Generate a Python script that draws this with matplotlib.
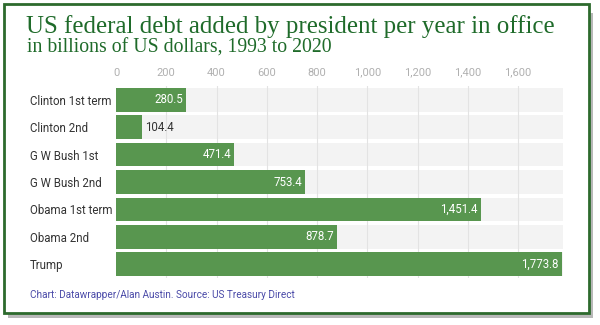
import matplotlib
matplotlib.use("Agg")
import matplotlib.pyplot as plt
from matplotlib.patches import Rectangle

categories = ["Clinton 1st term", "Clinton 2nd", "G W Bush 1st", "G W Bush 2nd",
              "Obama 1st term", "Obama 2nd", "Trump"]
values = [280.5, 104.4, 471.4, 753.4, 1451.4, 878.7, 1773.8]
xticks = [0, 200, 400, 600, 800, 1000, 1200, 1400, 1600]
xticklabels = ["0", "200", "400", "600", "800", "1,000", "1,200", "1,400", "1,600"]

W, H = 600, 325
fig = plt.figure(figsize=(6, 3.25), dpi=100)
fig.patch.set_facecolor("white")

def fx(px): return px / W
def fy(py): return 1 - py / H

# shadow and border
fig.patches.append(Rectangle((fx(8), fy(318)), fx(585), (313 - 8) / H, transform=fig.transFigure,
                             facecolor="#b8b8b8", edgecolor="none", zorder=0))
fig.patches.append(Rectangle((fx(4), fy(313)), fx(585), (313 - 4) / H, transform=fig.transFigure,
                             facecolor="white", edgecolor="#2d6a2d", linewidth=2, zorder=1))

ax = fig.add_axes([fx(116), fy(278), fx(563 - 116), (278 - 86) / H])
ax.set_zorder(2)
ax.patch.set_alpha(0)
xmax = 1779
ax.set_xlim(0, xmax)
ax.set_ylim(len(categories) - 0.5, -0.5)

bar_color = "#58964f"
h = 0.86
for i, (c, v) in enumerate(zip(categories, values)):
    ax.barh(i, xmax, height=h, color="#f3f3f3", zorder=1)
    ax.barh(i, v, height=h, color=bar_color, zorder=3)
    lab = f"{v:,.1f}"
    if v > 200:
        ax.text(v - 12, i, lab, ha="right", va="center", color="white",
                fontsize=8.3, family="Roboto", zorder=4)
    else:
        ax.text(v + 12, i, lab, ha="left", va="center", color="#333333",
                fontsize=8.3, family="Roboto", zorder=4)

for t in xticks[1:]:
    ax.axvline(t, color="#e3e3e3", linewidth=0.8, zorder=2)

ax.set_xticks(xticks)
ax.set_xticklabels(xticklabels, family="Roboto", fontsize=8, color="#b0b0b0")
ax.xaxis.tick_top()
ax.tick_params(axis="x", length=0, pad=6)
ax.set_yticks(range(len(categories)))
ax.set_yticklabels(categories, family="Roboto", fontsize=8.3, color="#333333")
ax.tick_params(axis="y", length=0, pad=6)
for lbl in ax.get_yticklabels():
    lbl.set_horizontalalignment("left")
    lbl.set_x(-78 / (563 - 116))
for s in ax.spines.values():
    s.set_visible(False)

fig.text(fx(26), fy(27), "US federal debt added by president per year in office",
         family="Liberation Serif", fontsize=17.9, color="#1f6b2a", va="center", ha="left")
fig.text(fx(27), fy(48), "in billions of US dollars, 1993 to 2020",
         family="Liberation Serif", fontsize=14.2, color="#1f6b2a", va="center", ha="left")
fig.text(fx(30), fy(295), "Chart: Datawrapper/Alan Austin. Source: US Treasury Direct",
         family="Roboto", fontsize=7.2, color="#4a4aa8", va="center", ha="left")

fig.savefig("out.png", dpi=100)
